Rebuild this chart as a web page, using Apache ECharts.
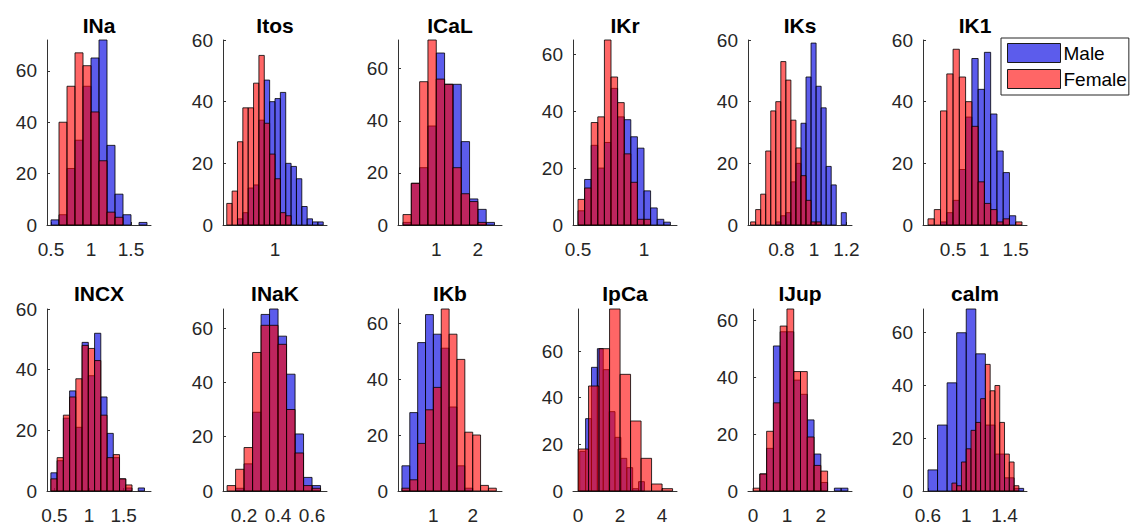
<!DOCTYPE html>
<html>
<head>
<meta charset="utf-8">
<script src="https://cdn.jsdelivr.net/npm/echarts@6.0.0/dist/echarts.min.js"></script>
<style>
html, body { margin: 0; padding: 0; background: #fff; }
#chart { width: 1131px; height: 525px; }
</style>
</head>
<body>
<div id="chart"></div>
<script>
var panelNames = ['INa', 'Itos', 'ICaL', 'IKr', 'IKs', 'IK1', 'INCX', 'INaK', 'IKb', 'IpCa', 'IJup', 'calm'];

// x-axis limits and tick labels for each panel
var xRanges = [[0.45, 1.75], [0.03, 1.97], [0.08, 2.58], [0.462, 1.25], [0.594, 1.234], [0.02, 1.68],
               [0.394, 1.894], [0.076, 0.688], [0.1, 2.745], [-0.24, 4.71], [-0.15, 2.92], [0.548, 1.635]];
var xTicks = [[0.5, 1, 1.5], [1], [1, 2], [0.5, 1], [0.8, 1, 1.2], [0.5, 1, 1.5],
              [0.5, 1, 1.5], [0.2, 0.4, 0.6], [1, 2], [0, 2, 4], [0, 1, 2], [0.6, 1, 1.4]];
var yMaxes = [72, 60, 71, 65, 60, 60, 60, 67, 65, 78, 64, 69];
var yTicks = [0, 20, 40, 60];

// first bin edge and bin width
var maleStart = [0.5, 0.1, 0.2, 0.5, 0.61, 0.1, 0.45, 0.1, 0.2, 0.08, 0, 0.6];
var maleWidth = [0.1, 0.1, 0.2, 0.05, 0.031, 0.1, 0.09, 0.05, 0.2, 0.28, 0.2, 0.1];
var femaleStart = [0.5, 0.1, 0.2, 0.5, 0.61, 0.1, 0.45, 0.1, 0.2, 0, 0, 0.85];
var femaleWidth = [0.1, 0.1, 0.2, 0.05, 0.031, 0.1, 0.09, 0.05, 0.2, 0.5, 0.2, 0.05];

// bin counts
var maleINa = [2, 4, 22, 33, 54, 65, 72, 31, 12, 4, 0, 1];
var femaleINa = [0, 40, 54, 67, 62, 44, 25, 5, 3];
var maleItos = [0, 0, 2, 4, 12, 13, 34, 47, 40, 41, 43, 20, 19, 15, 6, 2, 1, 1];
var femaleItos = [7, 11, 27, 38, 38, 46, 55, 33, 23, 15, 4, 3];
var maleICaL = [1, 16, 22, 38, 66, 54, 54, 32, 10, 6, 1];
var femaleICaL = [4, 16, 55, 71, 56, 54, 22, 12, 9, 1];
var maleIKr = [5, 16, 28, 20, 29, 48, 38, 37, 31, 27, 12, 6, 2, 1];
var femaleIKr = [9, 13, 36, 38, 65, 52, 43, 25, 15, 2, 2];
var maleIKs = [0, 0, 0, 0, 0, 1, 3, 4, 14, 20, 33, 48, 59, 45, 38, 19, 13, 0, 4];
var femaleIKs = [1, 5, 10, 24, 37, 40, 53, 47, 34, 25, 16, 8, 1, 1];
var maleIK1 = [0, 0, 1, 4, 8, 18, 35, 54, 44, 56, 36, 24, 17, 3, 0];
var femaleIK1 = [2, 5, 37, 49, 57, 48, 40, 32, 14, 7, 5, 1, 2, 0, 1];
var maleINCX = [6, 10, 24, 33, 21, 49, 38, 52, 31, 19, 11, 4, 1, 0, 1];
var femaleINCX = [4, 11, 25, 31, 37, 48, 47, 43, 25, 11, 12, 4, 2];
var maleINaK = [0, 1, 10, 29, 65, 67, 57, 43, 21, 5, 2];
var femaleINaK = [2, 8, 16, 51, 61, 61, 54, 30, 14, 2, 1];
var maleIKb = [9, 28, 53, 63, 56, 51, 30, 9, 1];
var femaleIKb = [1, 4, 17, 29, 37, 65, 56, 47, 21, 20, 2, 1];
var maleIpCa = [17, 31, 53, 61, 52, 34, 23, 14, 10, 1, 4];
var femaleIpCa = [18, 45, 61, 78, 50, 30, 14, 3, 1];
var maleIJup = [0, 6, 15, 51, 56, 56, 39, 34, 25, 13, 3, 0, 1, 1];
var femaleIJup = [1, 6, 21, 31, 58, 64, 42, 42, 19, 9, 7];
var maleCalm = [8, 25, 41, 60, 69, 52, 25, 14, 5, 1];
var femaleCalm = [3, 2, 11, 16, 23, 26, 35, 48, 38, 40, 26, 14, 11, 2];

var maleCounts = [maleINa, maleItos, maleICaL, maleIKr, maleIKs, maleIK1,
                  maleINCX, maleINaK, maleIKb, maleIpCa, maleIJup, maleCalm];
var femaleCounts = [femaleINa, femaleItos, femaleICaL, femaleIKr, femaleIKs, femaleIK1,
                    femaleINCX, femaleINaK, femaleIKb, femaleIpCa, femaleIJup, femaleCalm];

var maleColor = 'rgba(0,0,225,0.64)';
var femaleColor = 'rgba(255,0,0,0.6)';
var edgeColor = 'rgba(0,0,0,0.8)';
var font = '"Liberation Sans", Arial, Helvetica, sans-serif';

var gridLefts = [47, 223, 398, 573, 748, 923];
var rowTops = [40, 309];
var gridW = 104, gridH = 185;

function binData(start, width, counts) {
	var res = [];
	for (var i = 0; i < counts.length; i++) {
		if (counts[i] > 0) {
			res.push([start + i * width, start + (i + 1) * width, counts[i]]);
		}
	}
	return res;
}

function renderBar(params, api) {
	var p0 = api.coord([api.value(0), api.value(2)]);
	var p1 = api.coord([api.value(1), 0]);
	return {
		type: 'rect',
		shape: { x: p0[0], y: p0[1], width: p1[0] - p0[0], height: p1[1] - p0[1] },
		style: { fill: api.visual('color'), stroke: edgeColor, lineWidth: 1 }
	};
}

var grids = [], xAxes = [], yAxes = [], series = [], titles = [];

panelNames.forEach(function (name, i) {
	var left = gridLefts[i % 6];
	var top = rowTops[Math.floor(i / 6)];
	grids.push({ left: left, top: top, width: gridW, height: gridH });
	xAxes.push({
		type: 'value', gridIndex: i,
		min: xRanges[i][0], max: xRanges[i][1],
		splitLine: { show: false },
		axisLine: { show: true, onZero: false, lineStyle: { color: '#333', width: 1 } },
		axisTick: { show: true, inside: true, length: 3, customValues: xTicks[i], lineStyle: { color: '#333' } },
		axisLabel: { customValues: xTicks[i], fontSize: 19, margin: 15, color: '#262626', fontFamily: font }
	});
	yAxes.push({
		type: 'value', gridIndex: i,
		min: 0, max: yMaxes[i],
		splitLine: { show: false },
		axisLine: { show: true, lineStyle: { color: '#333', width: 1 } },
		axisTick: { show: true, inside: true, length: 3, customValues: yTicks, lineStyle: { color: '#333' } },
		axisLabel: { customValues: yTicks, fontSize: 19, margin: 10, color: '#262626', fontFamily: font }
	});
	series.push({
		name: 'Male', type: 'custom', xAxisIndex: i, yAxisIndex: i,
		renderItem: renderBar, itemStyle: { color: maleColor },
		encode: { x: [0, 1], y: 2 },
		data: binData(maleStart[i], maleWidth[i], maleCounts[i])
	}, {
		name: 'Female', type: 'custom', xAxisIndex: i, yAxisIndex: i,
		renderItem: renderBar, itemStyle: { color: femaleColor },
		encode: { x: [0, 1], y: 2 },
		data: binData(femaleStart[i], femaleWidth[i], femaleCounts[i])
	});
	titles.push({
		type: 'text',
		x: left + gridW / 2,
		y: i < 6 ? 25 : 293,
		style: {
			text: name, fill: '#000', font: 'bold 21px ' + font,
			textAlign: 'center', textVerticalAlign: 'middle'
		}
	});
});

var myChart = echarts.init(document.getElementById('chart'), null, { renderer: 'svg' });

var option = {
	backgroundColor: '#fff',
	animation: false,
	grid: grids,
	xAxis: xAxes,
	yAxis: yAxes,
	legend: {
		orient: 'vertical',
		left: 1001, top: 38,
		itemWidth: 53, itemHeight: 19, itemGap: 6,
		padding: [5, 2, 6, 6],
		borderColor: '#262626', borderWidth: 1,
		backgroundColor: '#fff',
		selectedMode: false,
		icon: 'rect',
		textStyle: { fontSize: 19, color: '#000', fontFamily: font, padding: [0, 0, 0, -2] },
		data: [
			{ name: 'Male', itemStyle: { color: maleColor, borderColor: '#1a1a1a', borderWidth: 1 } },
			{ name: 'Female', itemStyle: { color: femaleColor, borderColor: '#1a1a1a', borderWidth: 1 } }
		]
	},
	graphic: titles,
	series: series
};

myChart.setOption(option);
</script>
</body>
</html>
